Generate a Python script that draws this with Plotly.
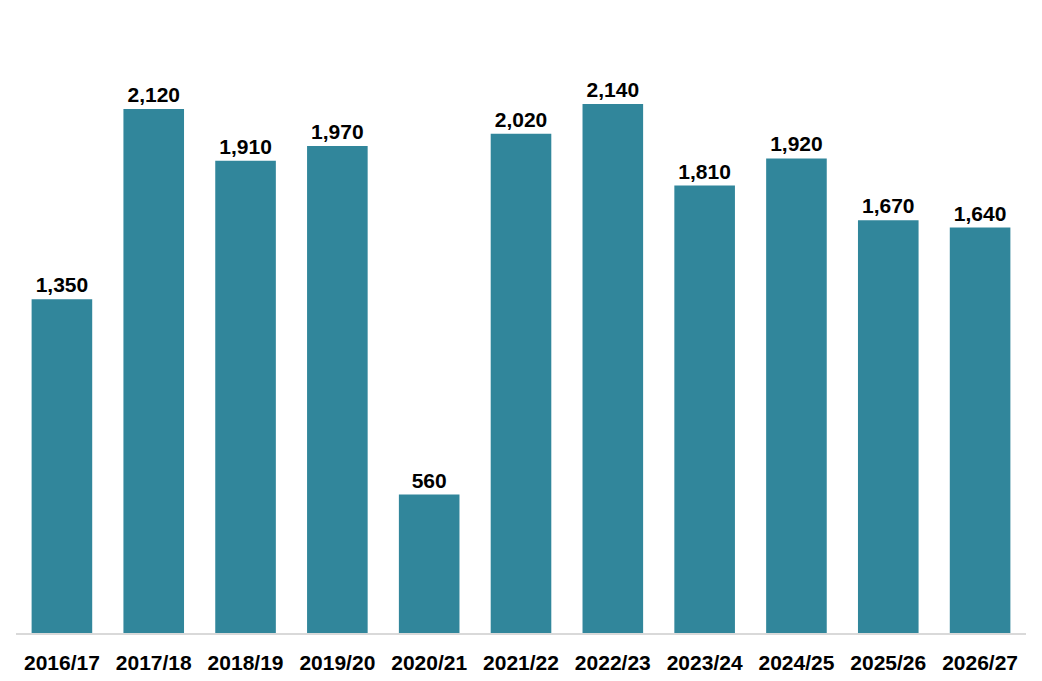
import plotly.graph_objects as go

years = ["2016/17", "2017/18", "2018/19", "2019/20", "2020/21", "2021/22",
         "2022/23", "2023/24", "2024/25", "2025/26", "2026/27"]
values = [1350, 2120, 1910, 1970, 560, 2020, 2140, 1810, 1920, 1670, 1640]
labels = [f"{v:,}" for v in values]

FONT = "Liberation Sans, Arial, sans-serif"

fig = go.Figure(go.Bar(
    x=years, y=values, text=labels, textposition="outside",
    marker=dict(color="#31869B", line=dict(width=0)),
    textfont=dict(family=FONT, size=21, color="black", weight="bold"),
    cliponaxis=False,
))
fig.update_layout(
    width=1042, height=681,
    margin=dict(l=16, r=16, t=15, b=48),
    plot_bgcolor="white", paper_bgcolor="white",
    bargap=0.34, showlegend=False,
    font=dict(family=FONT, color="black"),
    xaxis=dict(showline=True, linecolor="#D9D9D9", linewidth=1.5, showgrid=False,
               ticks="", ticklabelstandoff=10, automargin=False,
               tickfont=dict(size=21, family=FONT, weight="bold", color="black")),
    yaxis=dict(range=[0, 2500], showgrid=False, showticklabels=False, zeroline=False,
               automargin=False),
)
fig.write_html("out.html")
